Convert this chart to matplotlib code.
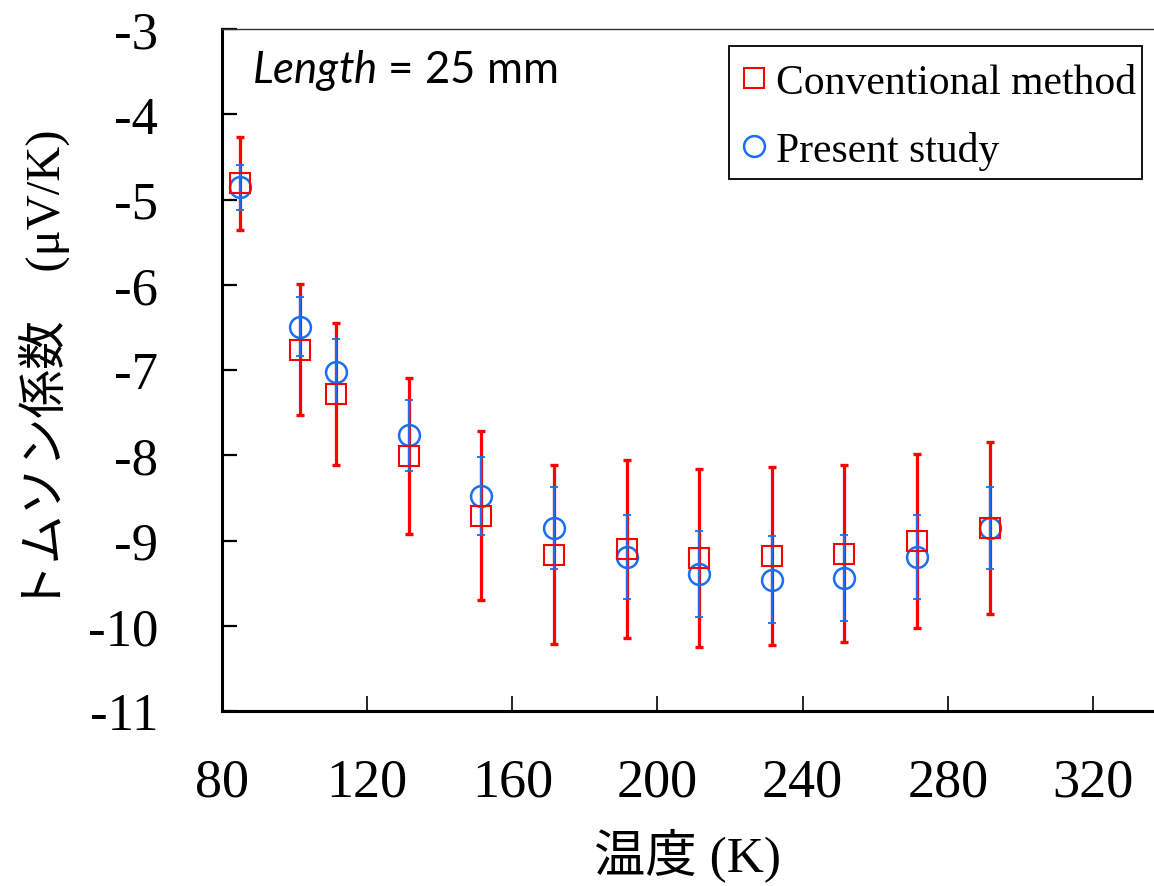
import matplotlib
matplotlib.use("Agg")
import matplotlib.pyplot as plt
from matplotlib.path import Path

# ---- data ----
temperature = [85, 101.5, 111.5, 131.5, 151.5, 171.5, 191.5, 211.5, 231.5, 251.5, 271.5, 291.5]
conv_values = [-4.81, -6.76, -7.28, -8.005, -8.71, -9.165, -9.10, -9.205, -9.185, -9.155, -9.01, -8.855]
conv_errors = [0.545, 0.77, 0.83, 0.915, 0.99, 1.045, 1.04, 1.045, 1.045, 1.035, 1.02, 1.005]
pres_values = [-4.855, -6.49, -7.02, -7.765, -8.48, -8.85, -9.195, -9.395, -9.46, -9.435, -9.195, -8.85]
pres_errors = [0.265, 0.35, 0.38, 0.415, 0.46, 0.48, 0.495, 0.505, 0.51, 0.505, 0.495, 0.48]
x_ticks = [80, 120, 160, 200, 240, 280, 320]
y_ticks = [-11, -10, -9, -8, -7, -6, -5, -4, -3]
series_labels = ["Conventional method", "Present study"]

RED = "#FF0000"
BLUE = "#1A6EF2"

plt.rcParams['mathtext.fontset'] = 'custom'
plt.rcParams['mathtext.it'] = 'Lato:italic'
plt.rcParams['mathtext.rm'] = 'Lato'

fig = plt.figure(figsize=(11.54, 8.87), dpi=100)
ax = fig.add_axes([222/1154, 1-712/887, 1-222/1154, (712-30)/887])

# error bars
ax.errorbar(temperature, conv_values, yerr=conv_errors, fmt='none', ecolor=RED,
            elinewidth=2.3, capsize=2.9, capthick=2.4, zorder=2)
ax.errorbar(temperature, pres_values, yerr=pres_errors, fmt='none', ecolor=BLUE,
            elinewidth=1.6, capsize=2.9, capthick=1.3, zorder=3)
# markers
ax.plot(temperature, pres_values, linestyle='none', marker='o', ms=15,
        mfc='none', mec=BLUE, mew=1.8, zorder=4, label=series_labels[1])
ax.plot(temperature, conv_values, linestyle='none', marker='s', ms=15,
        mfc='none', mec=RED, mew=1.5, zorder=5, label=series_labels[0])

ax.set_xlim(80, 80 + 932/3.629)
ax.set_ylim(-11, -3)
ax.set_xticks(x_ticks)
ax.set_yticks(y_ticks)
ax.set_xticklabels([str(v) for v in x_ticks], fontfamily='Liberation Serif', fontsize=39)
ax.set_yticklabels([str(v) for v in y_ticks], fontfamily='Liberation Serif', fontsize=38)
ax.tick_params(axis='y', direction='in', length=11, width=1.6, pad=46, color='black')
ax.tick_params(axis='x', direction='in', length=11, width=1.2, pad=33, color='black')

for s in ['left', 'bottom']:
    ax.spines[s].set_linewidth(2.2)
    ax.spines[s].set_color('black')
ax.spines['top'].set_linewidth(1.0)
ax.spines['top'].set_color('#333333')
ax.spines['right'].set_visible(False)

ax.set_xlabel("温度 (K)", family=['Liberation Serif', 'Noto Sans CJK JP'], fontsize=37, labelpad=14)
ax.set_ylabel("トムソン係数\u3000(μV/K)", family=['Liberation Serif', 'Noto Sans CJK JP'], fontsize=35, labelpad=13)

ax.text((252-222)/932, 1-(83-30)/682, r"$\mathit{Length}$ = 25 mm", transform=ax.transAxes,
        fontfamily='Lato', fontsize=31.5, va='baseline', ha='left')

PAD_TOP = 11.0
PAD_BOTTOM = 3.0
handles, labels = ax.get_legend_handles_labels()
leg = ax.legend(handles[::-1], labels[::-1], loc='upper right',
                bbox_to_anchor=((1142-222)/932, 1-(47+PAD_TOP-30)/682),
                prop={'family': 'Liberation Serif', 'size': 30},
                frameon=True, fancybox=False, edgecolor='black', framealpha=1,
                handlelength=0.9, handletextpad=0.06,
                borderpad=0.15, labelspacing=0.7, borderaxespad=0)


def legend_box(x0, y0, width, height, mutation_size):
    return Path([(x0, y0 - PAD_BOTTOM), (x0 + width, y0 - PAD_BOTTOM),
                 (x0 + width, y0 + height + PAD_TOP), (x0, y0 + height + PAD_TOP),
                 (x0, y0 - PAD_BOTTOM)], closed=True)


leg.get_frame().set_boxstyle(legend_box)
leg.get_frame().set_linewidth(1.3)

fig.savefig("out.png", dpi=100)
